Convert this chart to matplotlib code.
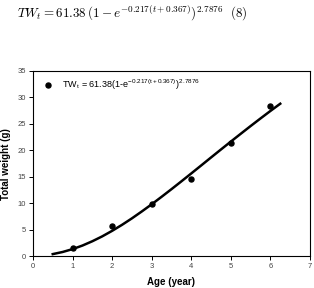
import matplotlib as mpl
mpl.use('Agg')
import matplotlib.pyplot as plt

plt.rcParams['font.family'] = ['Liberation Sans', 'DejaVu Sans']
plt.rcParams['mathtext.fontset'] = 'cm'

# observed mean total weight by age
ages = [1, 2, 3, 4, 5, 6]
weights = [1.6, 5.8, 9.9, 14.6, 21.4, 28.3]

# fitted curve
curve_age = [0.5, 0.75, 1, 1.25, 1.5, 1.75, 2, 2.25, 2.5, 2.75, 3, 3.25, 3.5,
             3.75, 4, 4.25, 4.5, 4.75, 5, 5.25, 5.5, 5.75, 6, 6.25]
curve_wt = [0.45, 0.85, 1.39, 2.06, 2.87, 3.79, 4.83, 5.96, 7.18, 8.48, 9.83,
            11.24, 12.68, 14.15, 15.64, 17.14, 18.65, 20.15, 21.64, 23.11,
            24.57, 26.00, 27.41, 28.78]

fig = plt.figure(figsize=(3.14, 2.88), dpi=100)
ax = fig.add_axes([0.105, 0.1094, 0.882, 0.6451])

# Equation above the chart
fig.text(0.055, 0.955,
         r'$TW_t = 61.38\,(1 - e^{-0.217(t+0.367)})^{2.7876}\ \ \mathrm{(8)}$',
         fontsize=9.4, va='center', ha='left')

ax.plot(ages, weights, 'o', color='black', markersize=3.6,
        label=r'TW$_\mathregular{t}$ = 61.38(1-e$^{\mathregular{-0.217(t+0.367)}}$)$^{\mathregular{2.7876}}$')
ax.plot(curve_age, curve_wt, '-', color='black', linewidth=1.8)

ax.set_xlim(0, 7)
ax.set_ylim(0, 35)
ax.set_xticks(range(0, 8))
ax.set_yticks(range(0, 36, 5))
ax.tick_params(labelsize=5.5, labelcolor='#444444', length=3, width=0.7, pad=2)
for s in ax.spines.values():
    s.set_linewidth(0.8)

ax.set_xlabel('Age (year)', fontsize=7, fontweight='bold', labelpad=5)
ax.set_ylabel('Total weight (g)', fontsize=7, fontweight='bold', labelpad=5)

ax.legend(loc='upper left', bbox_to_anchor=(0.01, 1.0), frameon=False,
          fontsize=6.5, handlelength=1.2, handletextpad=0.9, borderaxespad=0.4)

fig.savefig('out.png', dpi=100)
